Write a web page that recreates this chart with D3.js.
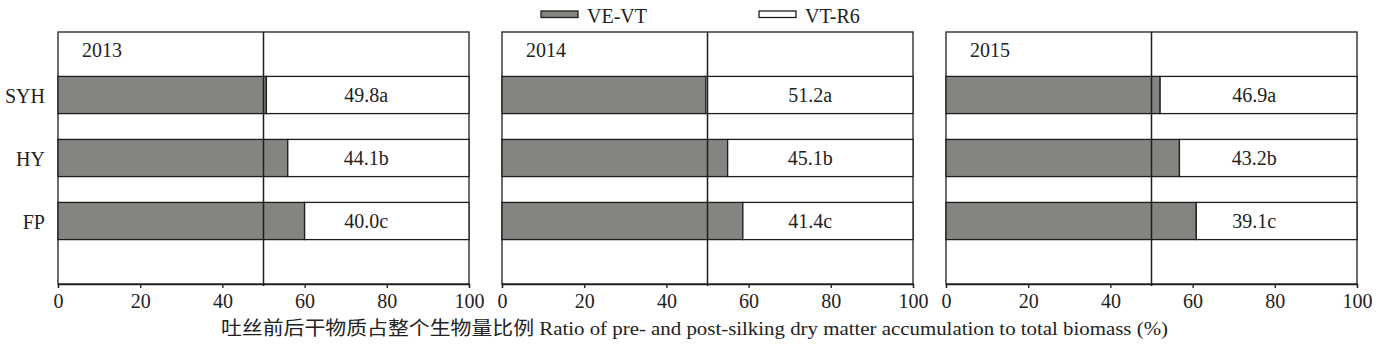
<!DOCTYPE html>
<html>
<head>
<meta charset="utf-8">
<script src="https://cdn.jsdelivr.net/npm/d3@7"></script>
<style>
  html, body { margin: 0; padding: 0; background: #fff; }
  svg { display: block; }
  svg text { font-family: "Liberation Serif", "Times New Roman", "DejaVu Serif", "Noto Sans CJK SC", serif !important; fill: #222; }
</style>
</head>
<body>
<svg id="chart" width="1380" height="355"></svg>
<script>
// ---- data ----
const years = ["2013", "2014", "2015"];
const categories = ["SYH", "HY", "FP"];
// pre-silking share (VE-VT), % (as drawn)
const veVt2013 = [50.7, 55.9, 60.0];
const veVt2014 = [49.6, 54.9, 58.6];
const veVt2015 = [52.1, 56.8, 60.9];
// post-silking share (VT-R6), %
const vtR62013 = [49.8, 44.1, 40.0];
const vtR62014 = [51.2, 45.1, 41.4];
const vtR62015 = [46.9, 43.2, 39.1];
const letters = ["a", "b", "c"];
const xTicks = [0, 20, 40, 60, 80, 100];
const refValue = 50;
const labelPos = 75;
const legendLabels = ["VE-VT", "VT-R6"];
const xTitle = "吐丝前后干物质占整个生物量比例 Ratio of pre- and post-silking dry matter accumulation  to total biomass (%)";

const veVt = [veVt2013, veVt2014, veVt2015];
const vtR6 = [vtR62013, vtR62014, vtR62015];

// ---- layout ----
const svg = d3.select("#chart");
const plotTop = 32, plotBottom = 284;
const panelW = 411, gap = 33, firstLeft = 58;
const stroke = "#1e1e1e";
const grayFill = "#868480";
const fs = 20;
const serif = "'Liberation Serif', 'Times New Roman', 'DejaVu Serif', 'Noto Sans CJK SC', serif";

const y = d3.scaleLinear().domain([0, categories.length + 1]).range([plotTop, plotBottom]);
const step = y(1) - y(0);
const barH = step * 0.59;

years.forEach((yr, p) => {
  const left = firstLeft + p * (panelW + gap);
  const x = d3.scaleLinear().domain([0, 100]).range([left, left + panelW]);
  const g = svg.append("g");

  // frame
  g.append("rect")
    .attr("x", x(0)).attr("y", plotTop)
    .attr("width", x(100) - x(0)).attr("height", plotBottom - plotTop)
    .attr("fill", "#fff").attr("stroke", stroke).attr("stroke-width", 1.3);

  // bars
  categories.forEach((c, i) => {
    const cy = y(i + 1);
    const a = veVt[p][i], b = vtR6[p][i];
    g.append("rect")
      .attr("x", x(0)).attr("y", cy - barH / 2)
      .attr("width", x(a) - x(0)).attr("height", barH)
      .attr("fill", grayFill).attr("stroke", stroke).attr("stroke-width", 1.3);
    g.append("rect")
      .attr("x", x(a)).attr("y", cy - barH / 2)
      .attr("width", x(100) - x(a)).attr("height", barH)
      .attr("fill", "#fff").attr("stroke", stroke).attr("stroke-width", 1.3);
    g.append("text")
      .attr("x", x(labelPos)).attr("y", cy + 7)
      .attr("text-anchor", "middle").attr("font-size", fs)
      .attr("font-family", serif)
      .text(b.toFixed(1) + letters[i]);
  });

  // reference line at 50
  g.append("line")
    .attr("x1", x(refValue)).attr("x2", x(refValue))
    .attr("y1", plotTop).attr("y2", plotBottom + 2)
    .attr("stroke", stroke).attr("stroke-width", 1.5);

  // year label
  g.append("text")
    .attr("x", x(0) + 24).attr("y", 57)
    .attr("font-size", fs).attr("font-family", serif).text(yr);

  // x axis
  const ax = g.append("g")
    .attr("transform", `translate(0,${plotBottom})`)
    .call(d3.axisBottom(x).tickValues(xTicks).tickSize(4).tickPadding(6).tickFormat(d3.format("d")));
  ax.attr("font-family", serif).attr("font-size", fs);
  ax.select(".domain").attr("stroke", stroke).attr("stroke-width", 1.3);
  ax.selectAll(".tick line").attr("stroke", stroke).attr("stroke-width", 1.3);
  ax.selectAll(".tick text")
    .attr("font-size", fs).attr("font-family", serif).attr("fill", "#222");

  // y labels on first panel only
  if (p === 0) {
    categories.forEach((c, i) => {
      svg.append("text")
        .attr("x", x(0) - 13).attr("y", y(i + 1) + 8)
        .attr("text-anchor", "end").attr("font-size", fs)
        .attr("font-family", serif)
        .text(c);
    });
  }
});

// legend
const legendX = [541, 759];
const legendFill = [grayFill, "#fff"];
legendLabels.forEach((lab, i) => {
  svg.append("rect")
    .attr("x", legendX[i]).attr("y", 11)
    .attr("width", 37).attr("height", 6.5)
    .attr("fill", legendFill[i]).attr("stroke", stroke).attr("stroke-width", 1.3);
  svg.append("text")
    .attr("x", legendX[i] + 46).attr("y", 23)
    .attr("font-size", fs).attr("font-family", serif).text(lab);
});

// x title
svg.append("text")
  .attr("x", 221).attr("y", 335)
  .attr("font-size", 19)
  .attr("font-family", serif)
  .attr("textLength", 947).attr("lengthAdjust", "spacingAndGlyphs")
  .text(xTitle);
</script>
</body>
</html>
